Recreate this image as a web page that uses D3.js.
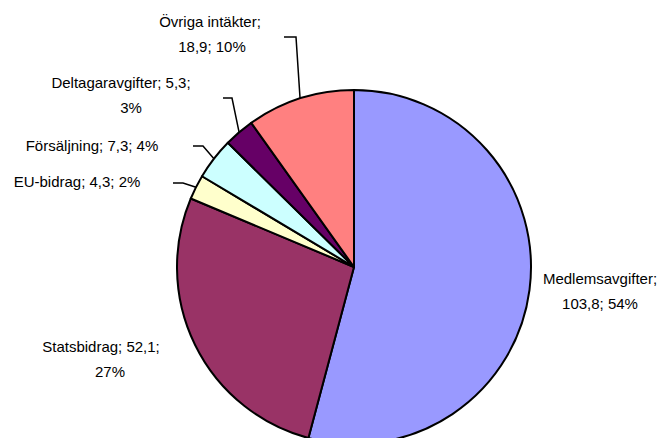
<!doctype html>
<html>
<head>
    <meta charset="utf-8">
    <script src="https://d3js.org/d3.v7.min.js"></script>
</head>
<style>
    body { margin: 0; background: #fff; }
    svg text {
        fill: #000;
        font: 15px "Liberation Sans", Arial, sans-serif;
        text-anchor: middle;
    }
</style>
<body>
<script>
    // data (amounts, same order as the slices run clockwise from 12 o'clock)
    var categories = ["Medlemsavgifter", "Statsbidrag", "EU-bidrag", "Försäljning", "Deltagaravgifter", "Övriga intäkter"];
    var values = [103.8, 52.1, 4.3, 7.3, 5.3, 18.9];
    var percentLabels = ["54%", "27%", "2%", "4%", "3%", "10%"];
    var colors = ["#9999FF", "#993366", "#FFFFCC", "#CCFFFF", "#660066", "#FF8080"];

    var width = 660, height = 438,
        cx = 354, cy = 267, radius = 177;

    // label layout: text lines, anchor of each line, leader line start (if any)
    var labelLayout = [
        { lines: [[600, 284], [600, 309]], split: 1 },
        { lines: [[101, 352], [110, 377]], split: 2 },
        { lines: [[77, 187]], leader: [173, 183, 183] },
        { lines: [[92, 151]], leader: [193, 203, 146] },
        { lines: [[121, 88], [131, 113]], split: 2, leader: [223, 232, 98] },
        { lines: [[210, 27], [212, 52]], split: 1, leader: [284, 296, 37] }
    ];
    // leader is [x1, x2, y]

    function fmt(v) { return String(v).replace(".", ","); }

    var svg = d3.select("body")
        .append("svg")
        .attr("width", width)
        .attr("height", height);

    var pie = d3.pie().sort(null).value(function (d) { return d; });
    var arcs = pie(values);

    var arc = d3.arc().innerRadius(0).outerRadius(radius);

    var g = svg.append("g")
        .attr("transform", "translate(" + cx + "," + cy + ")");

    g.selectAll("path")
        .data(arcs)
        .enter()
        .append("path")
        .attr("d", arc)
        .attr("fill", function (d, i) { return colors[i]; })
        .attr("stroke", "#000")
        .attr("stroke-width", 2)
        .attr("stroke-linejoin", "round");

    // leader lines
    arcs.forEach(function (d, i) {
        var lay = labelLayout[i];
        if (!lay.leader) return;
        var a = (d.startAngle + d.endAngle) / 2;
        var ex = cx + radius * Math.sin(a),
            ey = cy - radius * Math.cos(a);
        svg.append("polyline")
            .attr("points", [[lay.leader[0], lay.leader[2]], [lay.leader[1], lay.leader[2]], [ex, ey]].join(" "))
            .attr("fill", "none")
            .attr("stroke", "#000")
            .attr("stroke-width", 1.5);
    });

    // labels
    arcs.forEach(function (d, i) {
        var lay = labelLayout[i];
        var parts = [categories[i] + ";", fmt(values[i]) + ";", percentLabels[i]];
        var texts;
        if (lay.lines.length === 1) {
            texts = [parts.join(" ")];
        } else {
            texts = [parts.slice(0, lay.split).join(" "), parts.slice(lay.split).join(" ")];
        }
        texts.forEach(function (t, k) {
            svg.append("text")
                .attr("x", lay.lines[k][0])
                .attr("y", lay.lines[k][1])
                .text(t);
        });
    });
</script>
</body>
</html>
